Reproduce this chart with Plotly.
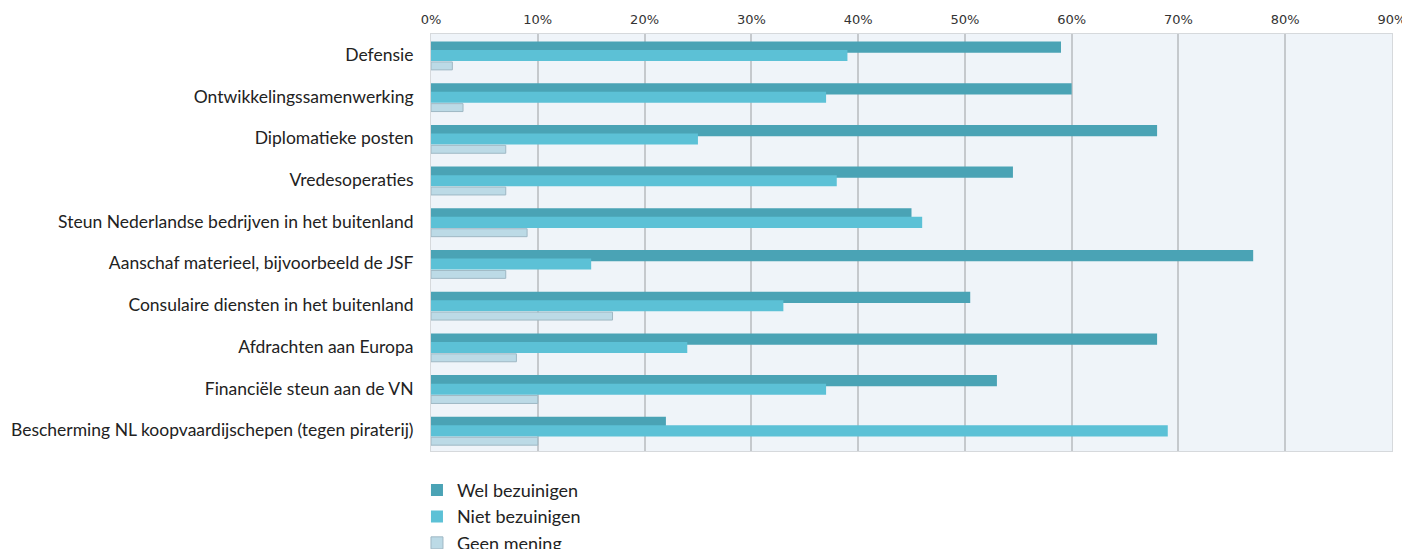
import plotly.graph_objects as go

categories = [
    "Defensie",
    "Ontwikkelingssamenwerking",
    "Diplomatieke posten",
    "Vredesoperaties",
    "Steun Nederlandse bedrijven in het buitenland",
    "Aanschaf materieel, bijvoorbeeld de JSF",
    "Consulaire diensten in het buitenland",
    "Afdrachten aan Europa",
    "Financiële steun aan de VN",
    "Bescherming NL koopvaardijschepen (tegen piraterij)",
]
wel_bezuinigen = [59, 60, 68, 54.5, 45, 77, 50.5, 68, 53, 22]
niet_bezuinigen = [39, 37, 25, 38, 46, 15, 33, 24, 37, 69]
geen_mening = [2, 3, 7, 7, 9, 7, 17, 8, 10, 10]
tick_vals = [0, 10, 20, 30, 40, 50, 60, 70, 80, 90]
tick_text = ["0%", "10%", "20%", "30%", "40%", "50%", "60%", "70%", "80%", "90%"]

fig = go.Figure()
fig.add_trace(go.Bar(
    y=categories, x=wel_bezuinigen, orientation="h", name="Wel bezuinigen",
    marker=dict(color="#4aa3b5", line=dict(width=0)),
    width=0.27, offset=-0.32,
))
fig.add_trace(go.Bar(
    y=categories, x=niet_bezuinigen, orientation="h", name="Niet bezuinigen",
    marker=dict(color="#5cc1d6", line=dict(width=0)),
    width=0.265, offset=-0.115,
))
fig.add_trace(go.Bar(
    y=categories, x=geen_mening, orientation="h", name="Geen mening",
    marker=dict(color="#bcdae6", line=dict(width=1, color="#9fb8c4")),
    width=0.19, offset=0.17,
))

fig.update_layout(
    width=1402, height=541,
    margin=dict(l=423, r=18, t=26, b=98, autoexpand=False),
    barmode="overlay",
    paper_bgcolor="white",
    plot_bgcolor="#eff4f9",
    font=dict(family="Lato, sans-serif", size=17.5, color="#222222"),
    showlegend=True,
    legend=dict(
        x=-0.0146, xanchor="left", y=-0.05, yanchor="top",
        orientation="v", traceorder="normal",
        font=dict(family="Lato, sans-serif", size=18, color="#222222"),
        bgcolor="rgba(0,0,0,0)", itemclick=False, tracegroupgap=0,
    ),
    xaxis=dict(
        side="top", range=[0, 90], tickvals=tick_vals, ticktext=tick_text,
        showgrid=True, gridcolor="#c5c9cd", gridwidth=2,
        zeroline=False, showline=True, linecolor="#d6d9dc", linewidth=1, mirror=True,
        ticks="", ticklabelstandoff=4,
        tickfont=dict(family="DejaVu Sans, sans-serif", size=13, color="#333333"),
        fixedrange=True,
    ),
    yaxis=dict(
        autorange="reversed", showgrid=False, zeroline=False,
        showline=True, linecolor="#d6d9dc", linewidth=1, mirror=True,
        ticks="", ticklabelstandoff=13,
        tickfont=dict(family="Lato, sans-serif", size=17.5, color="#222222"),
        fixedrange=True,
    ),
)

fig.write_html("out.html")
